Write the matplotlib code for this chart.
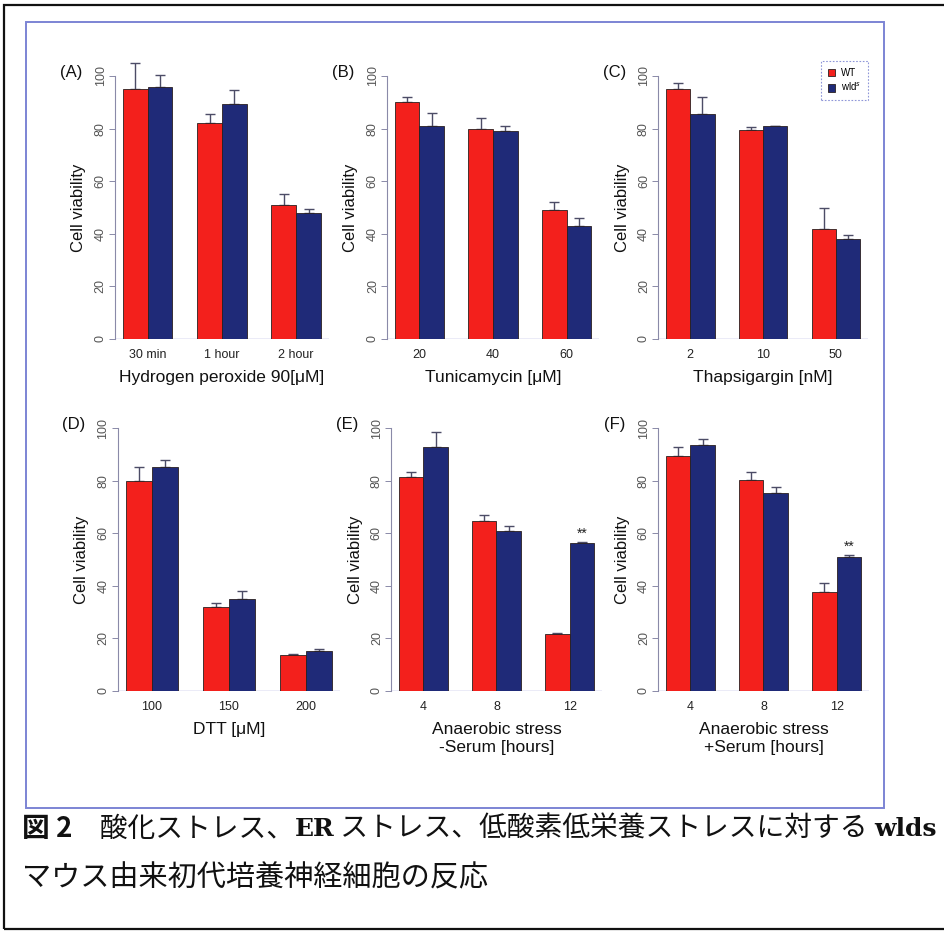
import numpy as np
import matplotlib
matplotlib.use("Agg")
from matplotlib import pyplot as plt
from matplotlib.patches import Rectangle

plt.rcParams['font.family'] = ['Liberation Sans', 'DejaVu Sans']

W, H = 945, 932

# (A) Hydrogen peroxide
groups_A = ['30 min', '1 hour', '2 hour']
wt_A = [95, 82, 51]
wt_A_err = [10, 3.5, 4]
wld_A = [96, 89.5, 48]
wld_A_err = [4.5, 5, 1.5]

# (B) Tunicamycin
groups_B = ['20', '40', '60']
wt_B = [90, 80, 49]
wt_B_err = [2, 4, 3]
wld_B = [81, 79, 43]
wld_B_err = [5, 2, 3]

# (C) Thapsigargin
groups_C = ['2', '10', '50']
wt_C = [95, 79.5, 42]
wt_C_err = [2.5, 1, 8]
wld_C = [85.5, 80.8, 38]
wld_C_err = [6.5, 0.3, 1.5]

# (D) DTT
groups_D = ['100', '150', '200']
wt_D = [80, 32, 13.5]
wt_D_err = [5, 1.5, 0.5]
wld_D = [85, 35, 15.3]
wld_D_err = [3, 3, 0.6]

# (E) anaerobic stress without serum
groups_E = ['4', '8', '12']
wt_E = [81.2, 64.6, 21.7]
wt_E_err = [1.9, 2.4, 0.3]
wld_E = [92.8, 61, 56.3]
wld_E_err = [5.8, 1.8, 0.5]

# (F) anaerobic stress with serum
groups_F = ['4', '8', '12']
wt_F = [89.5, 80.4, 37.7]
wt_F_err = [3.1, 2.8, 3.3]
wld_F = [93.7, 75.1, 51]
wld_F_err = [2.2, 2.5, 0.7]

RED = '#f3201c'
NAVY = '#1f2a78'

panels = [
    ('(A)', 'Hydrogen peroxide 90[\u03bcM]', groups_A, wt_A, wt_A_err, wld_A, wld_A_err, None),
    ('(B)', 'Tunicamycin [\u03bcM]', groups_B, wt_B, wt_B_err, wld_B, wld_B_err, None),
    ('(C)', 'Thapsigargin [nM]', groups_C, wt_C, wt_C_err, wld_C, wld_C_err, None),
    ('(D)', 'DTT [\u03bcM]', groups_D, wt_D, wt_D_err, wld_D, wld_D_err, None),
    ('(E)', 'Anaerobic stress\n-Serum [hours]', groups_E, wt_E, wt_E_err, wld_E, wld_E_err, 2),
    ('(F)', 'Anaerobic stress\n+Serum [hours]', groups_F, wt_F, wt_F_err, wld_F, wld_F_err, 2),
]

# pixel layout: first bar left, last bar right, y of 100, y of 0
boxes = [(123, 321, 76, 339), (395, 591, 76, 339), (666, 860, 76, 339),
         (126, 332, 428, 691), (399, 594, 428, 691), (666, 861, 428, 691)]

fig = plt.figure(figsize=(W / 100, H / 100), dpi=100)

axes = []
for (tag, xlab, groups, wt, wt_err, wld, wld_err, star), (bl, br, ytop, ybot) in zip(panels, boxes):
    bw = (br - bl) / 8.0
    x0 = bl - 0.32 * bw
    x1 = br + 0.32 * bw
    ax = fig.add_axes([x0 / W, 1 - ybot / H, (x1 - x0) / W, (ybot - ytop) / H])
    axes.append(ax)

    centers = np.array([2.0, 5.0, 8.0])
    b1 = ax.bar(centers - 0.5, wt, width=1, color=RED, edgecolor='#2a2020', linewidth=0.6, label='WT', zorder=2)
    b2 = ax.bar(centers + 0.5, wld, width=1, color=NAVY, edgecolor='#2a2020', linewidth=0.6, label='wld$^s$', zorder=2)
    for xs, ys, es in ((centers - 0.5, wt, wt_err), (centers + 0.5, wld, wld_err)):
        ax.errorbar(xs, ys, yerr=[np.zeros(3), es], fmt='none', ecolor='#4c4c66',
                    elinewidth=1, capsize=3.5, capthick=1, clip_on=False, zorder=1)
    if star is not None:
        ytxt = max(wld[star] + wld_err[star], wt[star] + wt_err[star]) + 3
        ax.text(centers[star] + 0.5, ytxt, '**', ha='center', va='center', fontsize=10, color='#222222')

    ax.set_xlim(0.68, 9.32)
    ax.set_ylim(0, 100)
    ax.axhline(0, color='#9a9ad8', lw=1, zorder=0.5)
    for s in ('top', 'right', 'bottom'):
        ax.spines[s].set_visible(False)
    ax.spines['left'].set_bounds(0, 100)
    ax.spines['left'].set_color('#8a8aa8')
    ax.spines['left'].set_linewidth(0.8)
    ax.patch.set_visible(False)

    ax.set_yticks([0, 20, 40, 60, 80, 100])
    ax.tick_params(axis='y', length=4, width=0.7, color='#8a8aa8', labelsize=9, labelcolor='#555555', pad=2)
    plt.setp(ax.get_yticklabels(), rotation=90, va='center')
    ax.set_xticks(centers)
    ax.set_xticklabels(groups)
    ax.tick_params(axis='x', length=0, labelsize=9, labelcolor='#222222', pad=7)

    ax.set_xlabel(xlab, fontsize=12.5, labelpad=7, color='#111111', linespacing=1.2)
    ax.set_ylabel('Cell viability', fontsize=12, labelpad=6, color='#111111')
    fig.text((x0 - 44) / W, 1 - (ytop - 4) / H, tag, fontsize=12, ha='center', va='center', color='#111111')

leg = fig.legend(handles=[b1, b2], loc='upper left', bbox_to_anchor=(816 / W, 1 - 56 / H),
                 fontsize=7, handlelength=0.8, handleheight=0.8, handletextpad=0.6,
                 borderpad=0.7, labelspacing=0.35, fancybox=False, framealpha=1)
leg.get_frame().set_edgecolor('#8f96d8')
leg.get_frame().set_linestyle((0, (1.5, 1.5)))
leg.get_frame().set_linewidth(0.8)

# blue frame round the panels and the outer page border
fig.patches.append(Rectangle((26 / W, 1 - 808 / H), (884 - 26) / W, (808 - 22) / H,
                             transform=fig.transFigure, fill=False, ec='#7c84d4', lw=1.4))
fig.patches.append(Rectangle((4 / W, 1 - 929 / H), (990 - 4) / W, (929 - 5) / H,
                             transform=fig.transFigure, fill=False, ec='#111111', lw=1.6))

# caption, written piece by piece
renderer = fig.canvas.get_renderer()
JP = ['Noto Sans CJK JP', 'DejaVu Sans']


def put_run(x, y, pieces):
    for s, kw in pieces:
        t = fig.text(x / W, 1 - y / H, s, va='center', ha='left', color='#111111', **kw)
        x += t.get_window_extent(renderer).width


fs = 20
put_run(22, 829, [
    ('図 2', dict(family=JP, fontsize=fs, fontweight='bold')),
    ('\u3000酸化ストレス、', dict(family=JP, fontsize=fs)),
    ('ER', dict(family='DejaVu Serif', fontsize=fs - 2, fontweight='bold')),
    (' ストレス、低酸素低栄養ストレスに対する ', dict(family=JP, fontsize=fs)),
    ('wlds', dict(family='DejaVu Serif', fontsize=fs - 2, fontweight='bold')),
])
put_run(22, 878, [('マウス由来初代培養神経細胞の反応', dict(family=JP, fontsize=21))])

fig.savefig('out.png', dpi=100)
